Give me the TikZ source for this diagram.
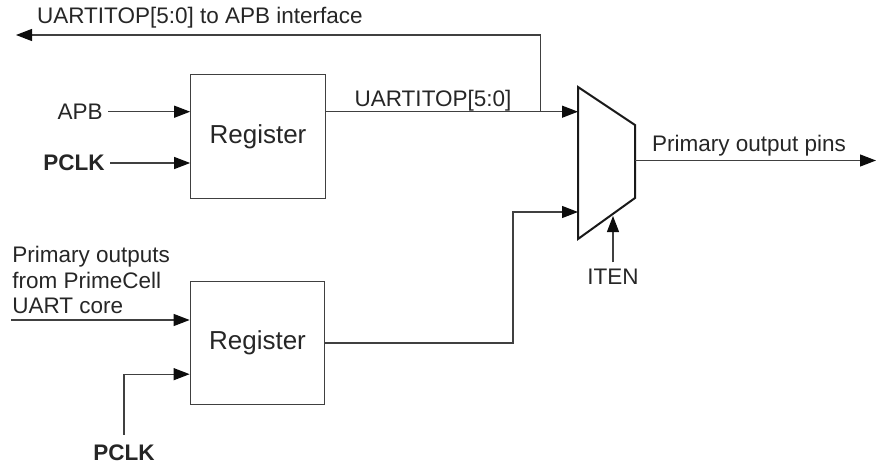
\documentclass[tikz,border=0pt]{standalone}
\usepackage{fontspec}
\setmainfont{Liberation Sans}
\usetikzlibrary{positioning,arrows.meta,calc}

\begin{document}
\begin{tikzpicture}[x=0.5pt, y=-0.5pt,
	every node/.style = {font=\fontsize{11.25}{12.75}\selectfont, text=black!85},
	wire/.style = {draw=black!75, line width=0.6pt},
	sig/.style = {wire, -{Triangle[length=8pt,width=6pt,color=black!95]}},
	regbox/.style = {draw=black!75, line width=0.6pt, minimum width=67.25pt,
		minimum height=61.75pt, font=\fontsize{13}{15}\selectfont},
	lbl/.style = {inner xsep=2.5pt, inner ysep=0pt},
	clk/.style = {lbl, font=\fontsize{11.25}{12.75}\selectfont\bfseries}]
	\useasboundingbox (0,0) rectangle (885,467);
	% registers
	\node[regbox] (regA) at (258,136.4) {Register};
	\node[regbox] (regB) at (257.5,343) {Register};
	% multiplexer
	\draw[line width=1pt, black!90] (578,87) -- (635,125) -- (635,198) -- (578,239) -- cycle;
	\coordinate (muxA) at (578,111.7);
	\coordinate (muxB) at (578,212);
	\coordinate (muxO) at (635,160.5);
	\coordinate (muxS) at (612,216);
	% upper register
	\node[lbl, anchor=east] (apb) at (108,111.7) {APB};
	\node[clk, anchor=east] (clkA) at (110,163) {PCLK};
	\draw[sig] (apb) -- (apb -| regA.west);
	\draw[sig] (clkA) -- (clkA -| regA.west);
	\draw[sig] (regA.east |- muxA) -- node[pos=0.425, anchor=base, yshift=2.5pt] (itop) {UARTITOP[5:0]} (muxA);
	\coordinate (tap) at (540.7,111.7);
	\coordinate (apbif) at (16,35);
	\draw[sig] (tap) |- (apbif);
	\node[anchor=base west, inner sep=0pt] (toapb) at (36.7,23.3) {UARTITOP[5:0] to APB interface};
	% lower register
	\node[anchor=north west, inner sep=0pt, align=left] (core) at (12,246) {Primary outputs\\from PrimeCell\\UART core};
	\coordinate (coreIn) at (11,320);
	\draw[sig] (coreIn) -- (coreIn -| regB.west);
	\node[clk] (clkB) at (124,453) {PCLK};
	\draw[sig] ([yshift=5pt]clkB.north) |- ($(regB.south west)!0.25!(regB.north west)$);
	\coordinate (bend) at (513,212);
	\draw[sig] (regB.east) -| (bend) -- (muxB);
	% output and select
	\coordinate (pins) at (876,160.5);
	\draw[sig] (muxO) -- (pins);
	\node[anchor=base west, inner sep=0pt] (pinlbl) at (651.7,151.7) {Primary output pins};
	\node[inner sep=3pt] (iten) at (613,276.5) {ITEN};
	\draw[sig] (iten.north) -- (iten.north |- muxS);
\end{tikzpicture}
\end{document}
